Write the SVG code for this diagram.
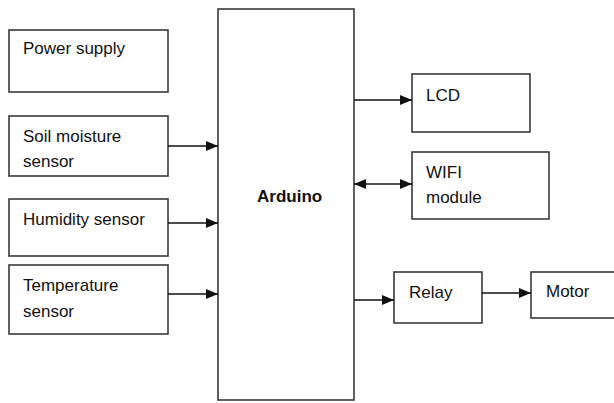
<svg xmlns="http://www.w3.org/2000/svg" width="614" height="403" viewBox="0 0 614 403">
<style>
.box{fill:#fff;stroke:#3a3a3a;stroke-width:1.6}
.t{font-family:"Liberation Sans",Arial,sans-serif;font-size:17px;fill:#111}
.b{font-weight:bold}
.c{stroke:#111;stroke-width:1.6;fill:none}
</style>
<defs>
<marker id="ah" markerWidth="12" markerHeight="10" refX="12" refY="5" orient="auto" markerUnits="userSpaceOnUse">
<path d="M0,0 L12,5 L0,10 Z" fill="#111"/>
</marker>
<marker id="as" markerWidth="12" markerHeight="10" refX="12" refY="5" orient="auto-start-reverse" markerUnits="userSpaceOnUse">
<path d="M0,0 L12,5 L0,10 Z" fill="#111"/>
</marker>
</defs>
<rect width="614" height="403" fill="#fff"/>
<g id="power"><rect class="box" x="9" y="30" width="159" height="62"/><text class="t" x="23" y="54">Power supply</text></g>
<g id="soil"><rect class="box" x="9" y="116" width="159" height="60"/><text class="t" x="23" y="142">Soil moisture</text><text class="t" x="23" y="167">sensor</text></g>
<g id="humidity"><rect class="box" x="9" y="199" width="159" height="57"/><text class="t" x="23" y="225">Humidity sensor</text></g>
<g id="temperature"><rect class="box" x="9" y="265" width="159" height="69"/><text class="t" x="23" y="291">Temperature</text><text class="t" x="23" y="317">sensor</text></g>
<g id="arduino"><rect class="box" x="218" y="9" width="136" height="391"/><text class="t b" x="257" y="202">Arduino</text></g>
<g id="lcd"><rect class="box" x="412" y="74" width="118" height="58"/><text class="t" x="426" y="101">LCD</text></g>
<g id="wifi"><rect class="box" x="412" y="152" width="137" height="67"/><text class="t" x="426" y="178">WIFI</text><text class="t" x="426" y="203">module</text></g>
<g id="relay"><rect class="box" x="394" y="272" width="88" height="51"/><text class="t" x="409" y="298">Relay</text></g>
<g id="motor"><rect class="box" x="531" y="272" width="90" height="46"/><text class="t" x="546" y="297">Motor</text></g>
<g id="connectors">
<line class="c" x1="168" y1="146" x2="218" y2="146" marker-end="url(#ah)"/>
<line class="c" x1="168" y1="223" x2="218" y2="223" marker-end="url(#ah)"/>
<line class="c" x1="168" y1="294" x2="218" y2="294" marker-end="url(#ah)"/>
<line class="c" x1="354" y1="100" x2="412" y2="100" marker-end="url(#ah)"/>
<line class="c" x1="354" y1="184" x2="412" y2="184" marker-start="url(#as)" marker-end="url(#ah)"/>
<line class="c" x1="354" y1="300" x2="394" y2="300" marker-end="url(#ah)"/>
<line class="c" x1="482" y1="293" x2="531" y2="293" marker-end="url(#ah)"/>
</g>
</svg>
